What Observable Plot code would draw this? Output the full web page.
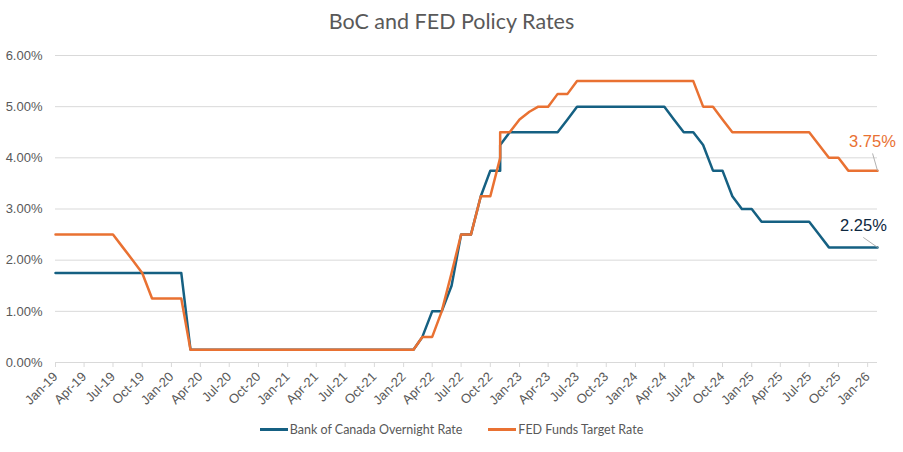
<!DOCTYPE html>
<html>
<head>
<meta charset="utf-8">
<script src="https://cdn.jsdelivr.net/npm/d3@7"></script>
<script src="https://cdn.jsdelivr.net/npm/@observablehq/plot@0.6"></script>
<style>
  body { margin: 0; background: #fff; }
  #wrap { position: relative; width: 903px; height: 452px; overflow: hidden; background: #fff; }
  #title { position: absolute; left: 0; top: 8px; width: 903px; text-align: center;
           font-family: Lato, "Open Sans", sans-serif; font-size: 21.5px; color: #595959; }
  #chart { position: absolute; left: 0; top: 0; }
  #legend { position: absolute; left: 0; top: 422px; width: 903px; display: flex; justify-content: center;
            font-family: Lato, "Open Sans", sans-serif; font-size: 12.5px; color: #595959; }
  .item { display: flex; align-items: center; margin: 0 13px; }
  .sw { width: 28px; height: 3px; margin-right: 2px; }
</style>
</head>
<body>
<div id="wrap">
  <div id="chart"></div>
  <div id="title">BoC and FED Policy Rates</div>
  <div id="legend"></div>
</div>
<script>
// Month of each observation (Nov-22 appears twice: two readings within the month)
const months = [
  "2019-01","2019-02","2019-03","2019-04","2019-05","2019-06","2019-07","2019-08","2019-09","2019-10","2019-11","2019-12",
  "2020-01","2020-02","2020-03","2020-04","2020-05","2020-06","2020-07","2020-08","2020-09","2020-10","2020-11","2020-12",
  "2021-01","2021-02","2021-03","2021-04","2021-05","2021-06","2021-07","2021-08","2021-09","2021-10","2021-11","2021-12",
  "2022-01","2022-02","2022-03","2022-04","2022-05","2022-06","2022-07","2022-08","2022-09","2022-10","2022-11","2022-11","2022-12",
  "2023-01","2023-02","2023-03","2023-04","2023-05","2023-06","2023-07","2023-08","2023-09","2023-10","2023-11","2023-12",
  "2024-01","2024-02","2024-03","2024-04","2024-05","2024-06","2024-07","2024-08","2024-09","2024-10","2024-11","2024-12",
  "2025-01","2025-02","2025-03","2025-04","2025-05","2025-06","2025-07","2025-08","2025-09","2025-10","2025-11","2025-12",
  "2026-01","2026-02"
];
// Bank of Canada Overnight Rate (%)
const boc = [
  1.75,1.75,1.75,1.75,1.75,1.75,1.75,1.75,1.75,1.75,1.75,1.75,
  1.75,1.75,0.25,0.25,0.25,0.25,0.25,0.25,0.25,0.25,0.25,0.25,
  0.25,0.25,0.25,0.25,0.25,0.25,0.25,0.25,0.25,0.25,0.25,0.25,
  0.25,0.25,0.50,1.00,1.00,1.50,2.50,2.50,3.25,3.75,3.75,4.25,4.50,
  4.50,4.50,4.50,4.50,4.50,4.75,5.00,5.00,5.00,5.00,5.00,5.00,
  5.00,5.00,5.00,5.00,4.75,4.50,4.50,4.25,3.75,3.75,3.25,3.00,
  3.00,2.75,2.75,2.75,2.75,2.75,2.75,2.50,2.25,2.25,2.25,2.25,
  2.25,2.25
];
// FED Funds Target Rate (%)
const fed = [
  2.50,2.50,2.50,2.50,2.50,2.50,2.50,2.25,2.00,1.75,1.25,1.25,
  1.25,1.25,0.25,0.25,0.25,0.25,0.25,0.25,0.25,0.25,0.25,0.25,
  0.25,0.25,0.25,0.25,0.25,0.25,0.25,0.25,0.25,0.25,0.25,0.25,
  0.25,0.25,0.50,0.50,1.00,1.75,2.50,2.50,3.25,3.25,4.00,4.50,4.50,
  4.75,4.90,5.00,5.00,5.25,5.25,5.50,5.50,5.50,5.50,5.50,5.50,
  5.50,5.50,5.50,5.50,5.50,5.50,5.50,5.00,5.00,4.75,4.50,4.50,
  4.50,4.50,4.50,4.50,4.50,4.50,4.50,4.25,4.00,4.00,3.75,3.75,
  3.75,3.75
];
const seriesNames = ["Bank of Canada Overnight Rate", "FED Funds Target Rate"];
const seriesColors = ["#156082", "#E97132"];
const labelColors = ["#0E2841", "#E97132"];
const yTicks = [0, 1, 2, 3, 4, 5, 6];

const parse = d3.utcParse("%Y-%m");
const bocRows = months.map((m, i) => ({date: parse(m), value: boc[i]}));
const fedRows = months.map((m, i) => ({date: parse(m), value: fed[i]}));
const xStart = parse(months[0]);
const xEnd = parse(months[months.length - 1]);
const xTicks = d3.utcMonth.every(3).range(xStart, xEnd);

const spike = { draw(context, l) { context.moveTo(0, 0); context.lineTo(0, -l); } };
const lastBoc = bocRows[bocRows.length - 1];
const lastFed = fedRows[fedRows.length - 1];
const pct = v => v.toFixed(2) + "%";

const chart = Plot.plot({
  width: 903,
  height: 452,
  marginLeft: 55,
  marginRight: 26,
  marginTop: 55,
  marginBottom: 90,
  style: { fontFamily: '"Liberation Sans", Arial, sans-serif', background: "#fff", overflow: "visible" },
  x: { type: "utc", domain: [xStart, xEnd], label: null },
  y: { domain: [0, 6], label: null },
  marks: [
    Plot.gridY(yTicks, { stroke: "#D9D9D9", strokeOpacity: 1, strokeWidth: 1 }),
    Plot.axisY(yTicks, { tickSize: 0, tickPadding: 13, tickFormat: pct, fontSize: 13, fill: "#595959", label: null }),
    Plot.axisX(xTicks, { tickSize: 5, tickPadding: 7, tickRotate: -45, tickFormat: d3.utcFormat("%b-%y"),
                         fontSize: 13, fill: "#595959", stroke: "#D9D9D9", label: null }),
    Plot.line(bocRows, { x: "date", y: "value", stroke: seriesColors[0], strokeWidth: 2.5 }),
    Plot.line(fedRows, { x: "date", y: "value", stroke: seriesColors[1], strokeWidth: 2.5 }),
    Plot.vector([lastFed], { x: "date", y: "value", length: 17.5, rotate: -16, anchor: "start", shape: spike,
                             stroke: "#A6A6A6", strokeWidth: 0.8 }),
    Plot.vector([lastBoc], { x: "date", y: "value", length: 17, rotate: -55, anchor: "start", shape: spike,
                             stroke: "#A6A6A6", strokeWidth: 0.8 }),
    Plot.text([lastFed], { x: "date", y: "value", text: d => pct(d.value), dx: -5, dy: -29,
                           fill: labelColors[1], fontSize: 16.5 }),
    Plot.text([lastBoc], { x: "date", y: "value", text: d => pct(d.value), dx: -14, dy: -22,
                           fill: labelColors[0], fontSize: 16.5 })
  ]
});
document.getElementById("chart").appendChild(chart);

const legend = document.getElementById("legend");
seriesNames.forEach((name, i) => {
  const item = document.createElement("div");
  item.className = "item";
  const sw = document.createElement("span");
  sw.className = "sw";
  sw.style.background = seriesColors[i];
  const tx = document.createElement("span");
  tx.textContent = name;
  item.appendChild(sw);
  item.appendChild(tx);
  legend.appendChild(item);
});
</script>
</body>
</html>
